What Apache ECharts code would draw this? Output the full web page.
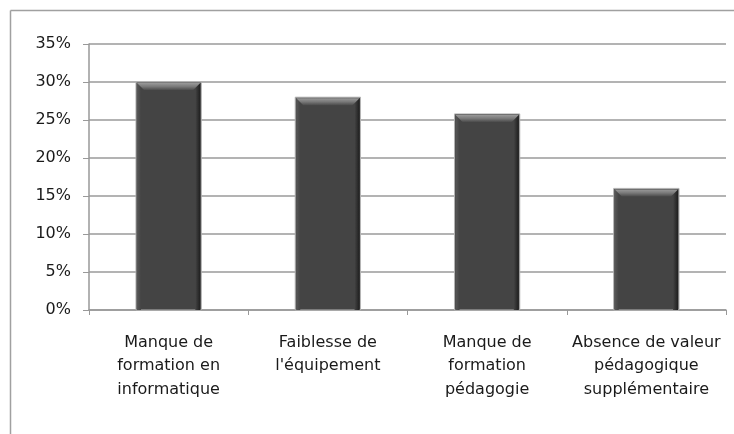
<!DOCTYPE html>
<html>
<head>
<meta charset="utf-8">
<script src="https://cdn.jsdelivr.net/npm/echarts@6/dist/echarts.min.js"></script>
<style>
html,body{margin:0;padding:0;background:#fff;}
#chart{width:734px;height:434px;}
</style>
</head>
<body>
<div id="chart"></div>
<script>
const categories = [
  "Manque de\nformation en\ninformatique",
  "Faiblesse de\nl'équipement",
  "Manque de\nformation\npédagogie",
  "Absence de valeur\npédagogique\nsupplémentaire"
];
const values = [30, 28, 25.8, 16];
const yTicks = { min: 0, max: 35, interval: 5 };

const chart = echarts.init(document.getElementById('chart'));
const FONT = 'DejaVu Sans';

function renderBar(params, api) {
  const idx = api.value(0);
  const v = api.value(1);
  const top = api.coord([idx, v]);
  const base = api.coord([idx, 0]);
  const bw = api.size([1, 0])[0] * 0.41;
  const x = top[0] - bw / 2;
  const y = top[1];
  const h = base[1] - top[1];
  return {
    type: 'group',
    children: [
      { type: 'rect', shape: { x: x, y: y, width: bw, height: h },
        style: { fill: '#444444', stroke: '#b4b4b4', lineWidth: 1 } },
      { type: 'rect', shape: { x: x + 1, y: y + 1, width: 4, height: h - 1 },
        style: { fill: new echarts.graphic.LinearGradient(0, 0, 1, 0, [
          { offset: 0, color: '#585858' }, { offset: 1, color: '#444444' }]) } },
      { type: 'rect', shape: { x: x + bw - 6, y: y + 1, width: 5, height: h - 1 },
        style: { fill: new echarts.graphic.LinearGradient(0, 0, 1, 0, [
          { offset: 0, color: '#444444' }, { offset: 1, color: '#1e1e1e' }]) } },
      { type: 'polygon', shape: { points: [[x + 1, y + 1], [x + bw - 1, y + 1], [x + bw - 8, y + 8], [x + 8, y + 8]] },
        style: { fill: new echarts.graphic.LinearGradient(0, 0, 0, 1, [
          { offset: 0, color: '#9a9a9a' }, { offset: 0.5, color: '#7a7a7a' }, { offset: 1, color: '#4c4c4c' }]) } }
    ]
  };
}

chart.setOption({
  animation: false,
  backgroundColor: '#ffffff',
  grid: { left: 89, right: 8, top: 44, bottom: 124, containLabel: false },
  graphic: [
    { type: 'line', shape: { x1: 10.5, y1: 10.5, x2: 734, y2: 10.5 }, style: { stroke: '#a0a0a0', lineWidth: 1.5 } },
    { type: 'line', shape: { x1: 10.5, y1: 10.5, x2: 10.5, y2: 434 }, style: { stroke: '#a0a0a0', lineWidth: 1.5 } }
  ],
  xAxis: {
    type: 'category',
    data: categories,
    boundaryGap: true,
    axisLine: { show: true, lineStyle: { color: '#999999', width: 1.5 } },
    axisTick: { show: true, length: 5, lineStyle: { color: '#999999' } },
    axisLabel: { color: '#1a1a1a', fontFamily: FONT, fontSize: 16, lineHeight: 23.5, margin: 21, interval: 0 }
  },
  yAxis: {
    type: 'value',
    min: yTicks.min, max: yTicks.max, interval: yTicks.interval,
    axisLine: { show: true, lineStyle: { color: '#999999', width: 1.5 } },
    axisTick: { show: true, length: 6, lineStyle: { color: '#999999' } },
    splitLine: { show: true, lineStyle: { color: '#9a9a9a', width: 1.5 } },
    axisLabel: { color: '#1a1a1a', fontFamily: FONT, fontSize: 16, margin: 18, formatter: '{value}%' }
  },
  series: [{
    type: 'custom',
    renderItem: renderBar,
    encode: { x: 0, y: 1 },
    data: values.map((v, i) => [i, v]),
    z: 3
  }]
});
</script>
</body>
</html>
